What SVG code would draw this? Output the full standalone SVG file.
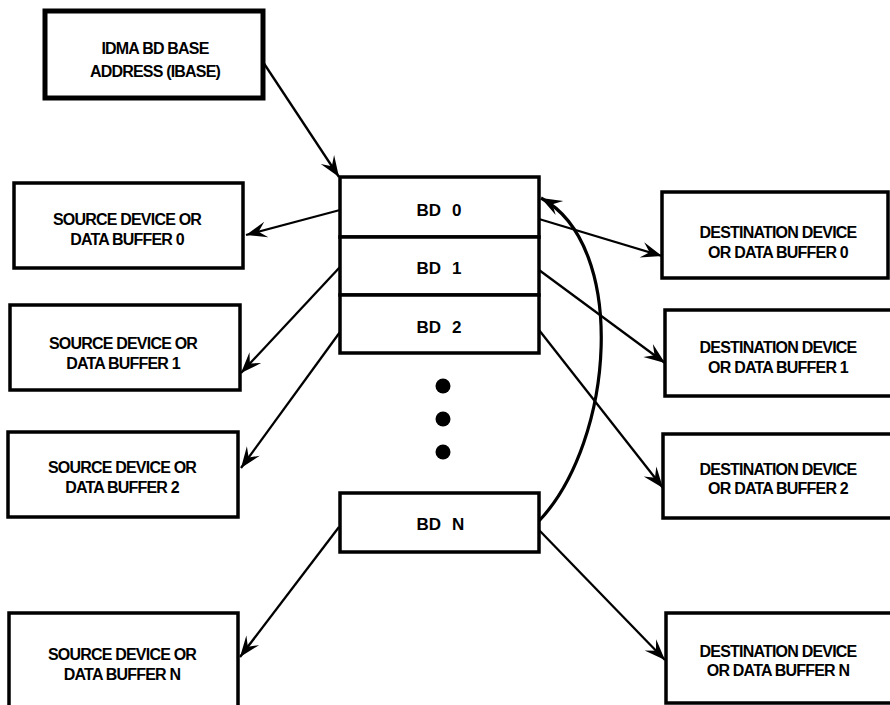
<svg xmlns="http://www.w3.org/2000/svg" width="890" height="705" viewBox="0 0 890 705">
<style>
.box{fill:#fff;stroke:#000;stroke-width:3.5}
.thick{fill:#fff;stroke:#000;stroke-width:5}
.t{font-family:"Liberation Sans",Arial,sans-serif;font-weight:bold;font-size:16px;letter-spacing:-0.8px;text-anchor:middle;fill:#000}
.bd{font-family:"Liberation Sans",Arial,sans-serif;font-weight:bold;font-size:17px;fill:#000}
.ln{fill:none;stroke:#000;stroke-width:2.3;marker-end:url(#ah)}
.cv{fill:none;stroke:#000;stroke-width:3.2;marker-end:url(#ah)}
</style>
<defs>
<marker id="ah" viewBox="-23 -9 24 18" refX="0" refY="0" markerWidth="24" markerHeight="18" orient="auto" markerUnits="userSpaceOnUse">
<path d="M0,0 L-21,-8 L-13,0 L-21,8 Z" fill="#000"/>
</marker>
</defs>
<rect width="890" height="705" fill="#fff"/>

<g id="ibase">
<rect class="thick" x="45" y="11" width="218" height="87"/>
<text class="t" x="155" y="54">IDMA BD BASE</text>
<text class="t" x="155" y="77">ADDRESS (IBASE)</text>
</g>

<g id="bd-stack">
<rect class="box" x="340" y="177" width="199" height="60"/>
<rect class="box" x="340" y="237" width="199" height="58"/>
<rect class="box" x="340" y="295" width="199" height="58"/>
<text class="bd" x="441" y="216" text-anchor="end">BD</text><text class="bd" x="452" y="216">0</text>
<text class="bd" x="441" y="274" text-anchor="end">BD</text><text class="bd" x="452" y="274">1</text>
<text class="bd" x="441" y="333" text-anchor="end">BD</text><text class="bd" x="452" y="333">2</text>
</g>

<g id="ellipsis">
<circle cx="443" cy="386" r="7.5" fill="#000"/>
<circle cx="443" cy="419" r="7.5" fill="#000"/>
<circle cx="443" cy="452" r="7.5" fill="#000"/>
</g>

<g id="bdn">
<rect class="box" x="340" y="493" width="199" height="59"/>
<text class="bd" x="441" y="530" text-anchor="end">BD</text><text class="bd" x="452" y="530">N</text>
</g>

<g id="src0">
<rect class="box" x="14" y="183" width="229" height="85"/>
<text class="t" x="127" y="225">SOURCE DEVICE OR</text>
<text class="t" x="127" y="245">DATA BUFFER 0</text>
</g>
<g id="src1">
<rect class="box" x="10" y="305" width="230" height="85"/>
<text class="t" x="123" y="349">SOURCE DEVICE OR</text>
<text class="t" x="123" y="369">DATA BUFFER 1</text>
</g>
<g id="src2">
<rect class="box" x="8" y="432" width="230" height="85"/>
<text class="t" x="122" y="473">SOURCE DEVICE OR</text>
<text class="t" x="122" y="493">DATA BUFFER 2</text>
</g>
<g id="srcN">
<rect class="box" x="9" y="613" width="229" height="100"/>
<text class="t" x="122" y="660">SOURCE DEVICE OR</text>
<text class="t" x="122" y="680">DATA BUFFER N</text>
</g>

<g id="dst0">
<rect class="box" x="662" y="192" width="226" height="86"/>
<text class="t" x="778" y="238">DESTINATION DEVICE</text>
<text class="t" x="778" y="258">OR DATA BUFFER 0</text>
</g>
<g id="dst1">
<rect class="box" x="665" y="310" width="235" height="86"/>
<text class="t" x="778" y="353">DESTINATION DEVICE</text>
<text class="t" x="778" y="373">OR DATA BUFFER 1</text>
</g>
<g id="dst2">
<rect class="box" x="663" y="434" width="237" height="84"/>
<text class="t" x="778" y="475">DESTINATION DEVICE</text>
<text class="t" x="778" y="494">OR DATA BUFFER 2</text>
</g>
<g id="dstN">
<rect class="box" x="666" y="613" width="234" height="90"/>
<text class="t" x="778" y="657">DESTINATION DEVICE</text>
<text class="t" x="778" y="676">OR DATA BUFFER N</text>
</g>

<g id="connectors">
<line class="ln" x1="263" y1="62" x2="339" y2="177"/>
<line class="ln" x1="340" y1="210" x2="246" y2="235"/>
<line class="ln" x1="340" y1="267" x2="241" y2="373"/>
<line class="ln" x1="340" y1="332" x2="241" y2="468"/>
<line class="ln" x1="339" y1="527" x2="240" y2="657"/>
<line class="ln" x1="539" y1="219" x2="662" y2="256"/>
<line class="ln" x1="539" y1="270" x2="665" y2="363"/>
<line class="ln" x1="539" y1="330" x2="663" y2="488"/>
<line class="ln" x1="539" y1="530" x2="665" y2="660"/>
<path class="cv" d="M539,521 C615,440 628,245 541,198"/>
</g>
</svg>
